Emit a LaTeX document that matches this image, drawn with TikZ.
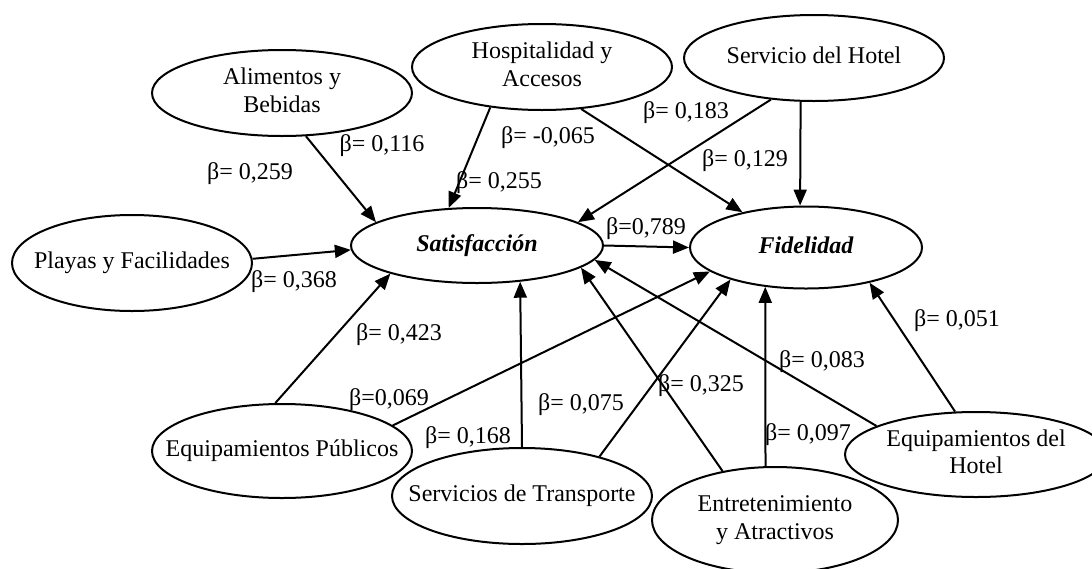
\documentclass[tikz,border=0pt]{standalone}
\usepackage{fontspec}
\setmainfont{Liberation Serif}
\usetikzlibrary{shapes.geometric,arrows.meta}
% centred text block of zero width, so the ellipse size is set by the style only
\newcommand{\ctext}[1]{\makebox[0pt]{\begin{tabular}{@{}c@{}}#1\end{tabular}}}
\begin{document}
\begin{tikzpicture}[x=1pt,y=-1pt,
  font=\fontsize{24}{27.5}\selectfont,
  ell/.style={draw, ellipse, line width=2pt, inner sep=0pt,
              minimum width=260pt, minimum height=86pt},
  lab/.style={anchor=base, inner sep=0pt},
  arr/.style={line width=2pt, -{Triangle[length=16pt,width=13pt]}}]
\useasboundingbox (0,0) rectangle (1092,568);
\clip (0,0) rectangle (1092,568);
\fill[white] (0,0) rectangle (1092,568);

% constructs
\node[ell] (ali) at (282,93) {\ctext{Alimentos y\\Bebidas}};
\node[ell] (hos) at (542,67) {\ctext{Hospitalidad y\\Accesos}};
\node[ell] (ser) at (814,58) {\ctext{Servicio del Hotel}};
\node[ell, minimum width=240pt, minimum height=96pt] (pla) at (132,263) {\ctext{Playas y Facilidades}};
\node[ell, minimum width=252pt, minimum height=75pt] (sat) at (477,245.5) {\ctext{\bfseries\itshape Satisfacción}};
\node[ell, minimum width=232pt, minimum height=82pt] (fid) at (806,247.5) {\ctext{\bfseries\itshape Fidelidad}};
\node[ell, minimum height=94pt] (eqp) at (282,451) {\ctext{Equipamientos Públicos}};
\node[ell, minimum height=96pt] (tra) at (522,496) {\ctext{Servicios de Transporte}};
\node[ell, minimum width=246pt, minimum height=106pt] (ent) at (775,520) {\ctext{Entretenimiento\\y Atractivos}};
\node[ell, minimum width=262pt, minimum height=85pt] (eqh) at (976,454.5) {\ctext{Equipamientos del\\Hotel}};

% paths
\draw[arr] (ali.-61) -- (sat.167);
\draw[arr] (hos.-142) -- (sat.127);
\draw[arr] (pla.2) -- (sat.182);
\draw[arr] (hos.-47) -- (fid.151);
\draw[arr] (ser.-136) -- (sat.13);
\draw[arr] (ser.-107) -- (fid.98);
\draw[arr] (sat.east) -- (fid.west);
\draw[arr] (eqp.98) -- (sat.-162);
\draw[arr] (eqp.13) -- (fid.-166);
\draw[arr] (tra.90) -- (sat.-40);
\draw[arr] (tra.27) -- (fid.-157);
\draw[arr] (ent.137) -- (sat.-12);
\draw[arr] (ent.100) -- (fid.-136);
\draw[arr] (eqh.164) -- (sat.-7);
\draw[arr] (eqh.116) -- (fid.-29);

% path coefficients
\node[lab] (b1) at (382,151) {β= 0,116};
\node[lab] (b2) at (250,179) {β= 0,259};
\node[lab] (b3) at (499,188) {β= 0,255};
\node[lab] (b4) at (294,287) {β= 0,368};
\node[lab] (b5) at (548,143) {β= -0,065};
\node[lab] (b6) at (686,118) {β= 0,183};
\node[lab] (b7) at (745,166) {β= 0,129};
\node[lab] (b8) at (646,234) {β=0,789};
\node[lab] (b9) at (399,340) {β= 0,423};
\node[lab] (b10) at (389,405) {β=0,069};
\node[lab] (b11) at (468,443) {β= 0,168};
\node[lab] (b12) at (581,410) {β= 0,075};
\node[lab] (b13) at (701,391) {β= 0,325};
\node[lab] (b14) at (822,367) {β= 0,083};
\node[lab] (b15) at (957,326) {β= 0,051};
\node[lab] (b16) at (808,440) {β= 0,097};
\end{tikzpicture}
\end{document}
